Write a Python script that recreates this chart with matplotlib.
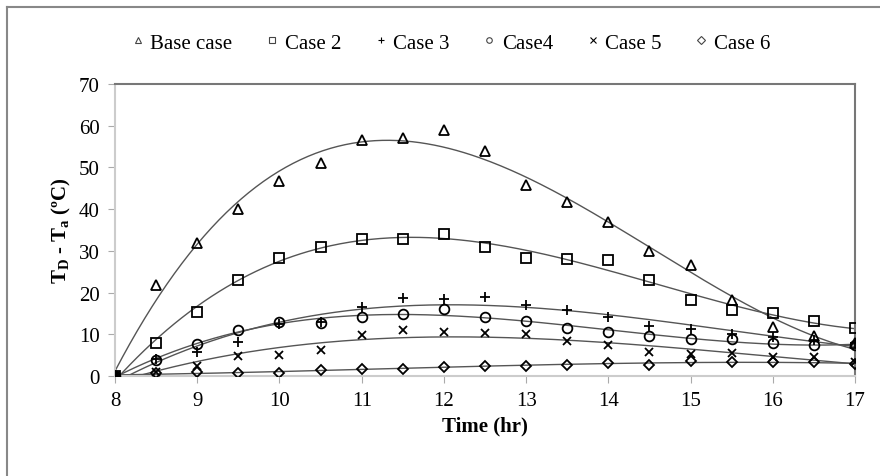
import numpy as np
import matplotlib
matplotlib.use("Agg")
import matplotlib.pyplot as plt
from matplotlib.lines import Line2D

plt.rcParams['font.family'] = ['Liberation Serif', 'DejaVu Serif']
plt.rcParams['mathtext.default'] = 'regular'

time = [8, 8.5, 9, 9.5, 10, 10.5, 11, 11.5, 12, 12.5, 13, 13.5, 14, 14.5, 15, 15.5, 16, 16.5, 17]
base_case = [0, 21.8, 32.0, 40.0, 46.8, 51.1, 56.6, 57.1, 59.0, 54.0, 45.8, 41.8, 37.0, 30.0, 26.5, 18.3, 11.7, 9.7, 7.8]
case2 = [0, 7.9, 15.4, 23.1, 28.2, 30.9, 32.9, 32.9, 34.1, 31.0, 28.3, 28.1, 27.8, 23.1, 18.3, 15.9, 15.0, 13.1, 11.4]
case3 = [0, 4.0, 5.7, 8.2, 12.5, 13.0, 16.5, 18.6, 18.5, 18.9, 17.0, 15.8, 14.1, 12.1, 11.3, 10.1, 9.3, 8.6, 8.0]
case4 = [0, 3.8, 7.7, 11.1, 12.9, 12.7, 14.1, 14.9, 16.1, 14.1, 13.3, 11.4, 10.5, 9.7, 8.9, 8.9, 7.9, 7.4, 7.4]
case5 = [0, 1.0, 2.5, 4.7, 5.0, 6.3, 9.8, 11.1, 10.6, 10.3, 10.1, 8.5, 7.4, 5.7, 5.3, 5.5, 4.5, 4.5, 3.3]
case6 = [0, 0.7, 0.9, 0.7, 0.7, 1.5, 1.7, 1.7, 2.2, 2.5, 2.5, 2.7, 3.1, 2.6, 3.7, 3.3, 3.3, 3.3, 2.9]

labels = ['Base case', 'Case 2', 'Case 3', 'Case4', 'Case 5', 'Case 6']
series = [base_case, case2, case3, case4, case5, case6]
markers = ['^', 's', '+', 'o', 'x', 'D']
msizes = [7, 7, 7, 7, 6, 5]

fig = plt.figure(figsize=(8.8, 4.77), dpi=100)
ax = fig.add_axes([0.1307, 0.2096, 0.8409, 0.6122])

t = np.array(time)
tf = np.linspace(8, 17, 300)
for y in series:
    coef = np.polyfit(t, np.array(y), 3)
    ax.plot(tf, np.polyval(coef, tf), color='#555555', lw=1.0, zorder=2)
for y, m, ms, lab in zip(series, markers, msizes, labels):
    if m in ('+', 'x'):
        ax.plot(t, y, ls='none', marker=m, ms=ms, mew=1.3, color='black', zorder=3)
    else:
        ax.plot(t, y, ls='none', marker=m, ms=ms, mew=1.3, mfc='none', mec='black', zorder=3)

ax.set_xlim(8, 17)
ax.set_ylim(0, 70)
ax.set_xticks(range(8, 18))
ax.set_yticks(range(0, 71, 10))
ax.tick_params(axis='both', labelsize=15, direction='out', length=5, color='#aaaaaa', pad=6)
for s in ['left', 'bottom']:
    ax.spines[s].set_color('#cccccc')
    ax.spines[s].set_linewidth(1.5)
for s in ['top', 'right']:
    ax.spines[s].set_color('#777777')
    ax.spines[s].set_linewidth(1.5)

ax.set_xlabel('Time (hr)', fontsize=15, fontweight='bold', labelpad=4)
ax.set_ylabel('T$_D$ - T$_a$ (ºC)', fontsize=15, fontweight='bold', labelpad=4)

handles = []
for m, lab in zip(markers, labels):
    if m in ('+', 'x'):
        handles.append(Line2D([], [], ls='none', marker=m, ms=5, mew=0.8, color='black', label=lab))
    else:
        handles.append(Line2D([], [], ls='none', marker=m, ms=4, mew=0.8, mfc='none', mec='#444444', label=lab))
fig.legend(handles=handles, loc='center', bbox_to_anchor=(0.51, 0.908), ncol=6, frameon=False,
           fontsize=15, handletextpad=0.1, columnspacing=1.4, handlelength=1.0)

# figure frame lines (left and top)
fig.add_artist(Line2D([0.008, 0.008], [0, 0.983], color='#888888', lw=1.5))
fig.add_artist(Line2D([0.008, 1.0], [0.983, 0.983], color='#888888', lw=1.5))

fig.savefig('out.png', dpi=100)
